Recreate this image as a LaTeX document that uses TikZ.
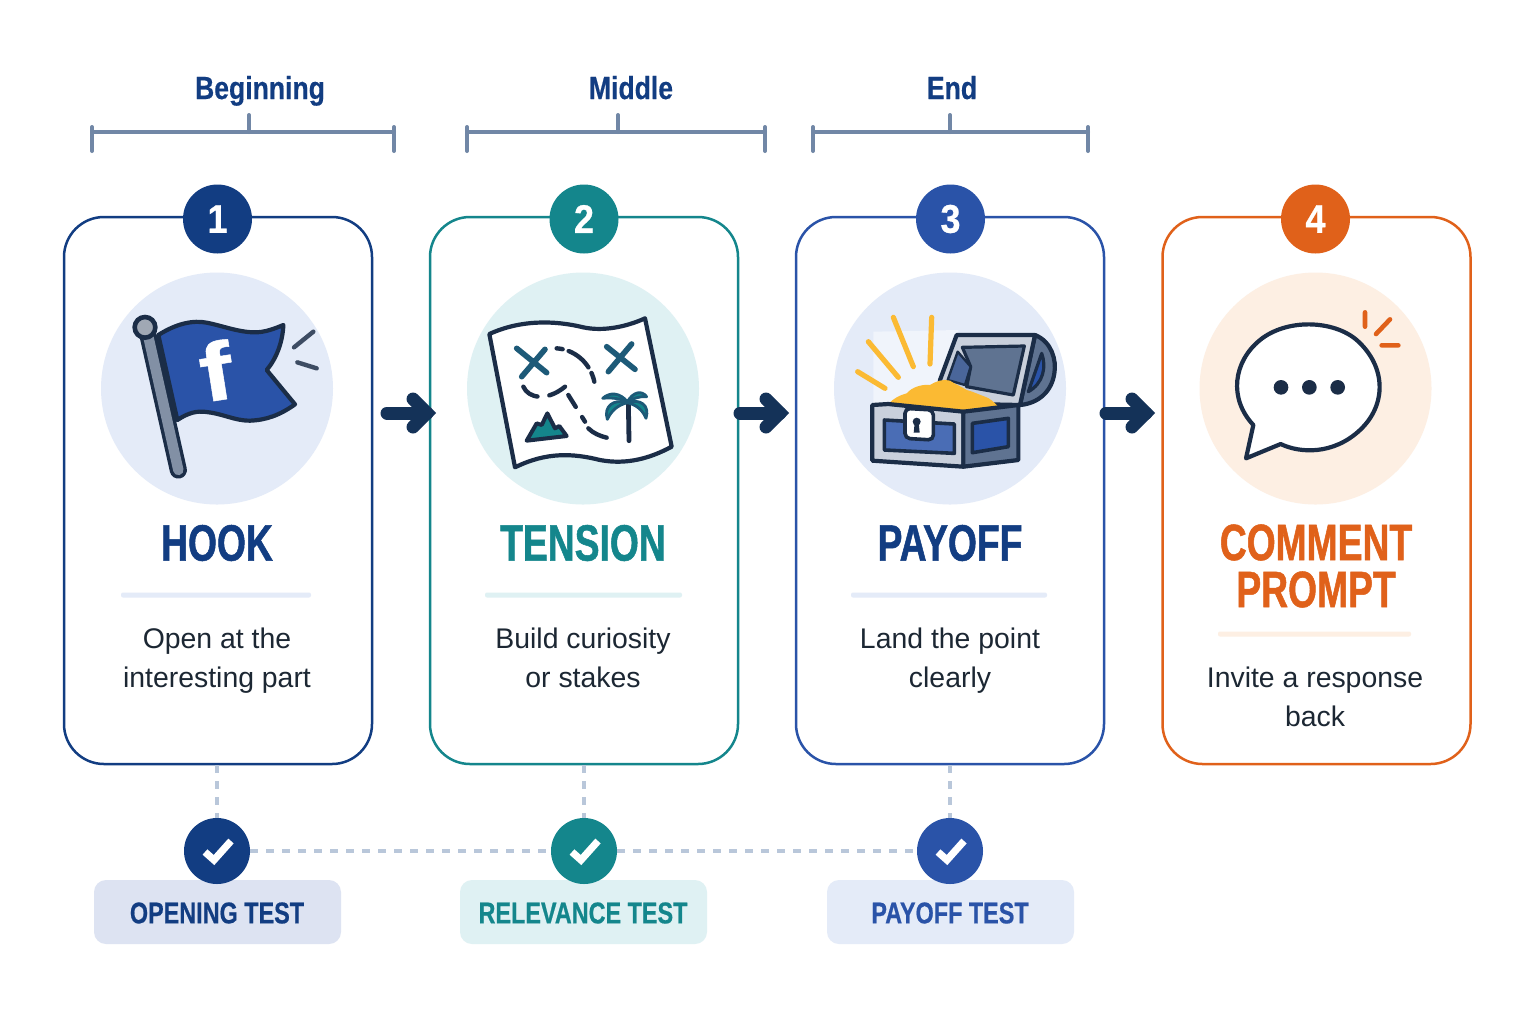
\documentclass[tikz,border=0pt]{standalone}
\usepackage{fontspec}
\setmainfont{Liberation Sans}
\newfontfamily\titlef[FakeStretch=0.73,FakeBold=1]{Liberation Sans Bold}
\newfontfamily\pillf[FakeStretch=0.78,FakeBold=0.6]{Liberation Sans Bold}
\newfontfamily\headf[FakeStretch=0.83,FakeBold=0.4]{Liberation Sans Bold}
\newfontfamily\numf[FakeStretch=0.9,FakeBold=0.6]{Liberation Sans Bold}
\newfontfamily\iconf[FakeStretch=1.2,FakeBold=0.6]{Liberation Sans Bold}
\definecolor{navy}{HTML}{123D82}
\definecolor{teal2}{HTML}{14868C}
\definecolor{blue3}{HTML}{2A53A8}
\definecolor{orange4}{HTML}{E0611A}
\definecolor{ink}{HTML}{1B2D47}
\definecolor{arrowc}{HTML}{143258}
\definecolor{slate}{HTML}{7187A6}
\definecolor{dashc}{HTML}{B9C7DA}
\definecolor{body}{HTML}{1C2733}
\definecolor{bgblue}{HTML}{E4EBF8}
\definecolor{bgteal}{HTML}{DFF1F3}
\definecolor{bgorange}{HTML}{FDEFE3}
\definecolor{gold}{HTML}{FBBA33}
\definecolor{steel}{HTML}{5F7391}
\definecolor{pale}{HTML}{C9D0DC}
\definecolor{mapx}{HTML}{1D5A78}
\definecolor{polec}{HTML}{8290A5}
\definecolor{ballc}{HTML}{A0A8B4}
\definecolor{pillnavy}{HTML}{DDE3F2}
\tikzset{
  card/.style={draw=#1,line width=1.25pt,fill=white,rounded corners=20pt,minimum width=154pt,minimum height=273.5pt,inner sep=0pt},
  badge/.style={circle,fill=#1,minimum size=34.5pt,inner sep=0pt,text=white,font=\numf\fontsize{20}{20}\selectfont},
  iconbg/.style={circle,fill=#1,minimum size=116pt,inner sep=0pt},
  titletext/.style={text=#1,font=\titlef\fontsize{25.5}{23.5}\selectfont,align=center,inner sep=0pt},
  bodytext/.style={text=body,font=\fontsize{14.2}{19.5}\selectfont,align=center,inner sep=0pt},
  rulebar/.style={draw=none,fill=#1,rounded corners=1pt,inner sep=0pt,minimum height=2.5pt},
  checknode/.style={circle,fill=#1,minimum size=33pt,inner sep=0pt},
  pill/.style={fill=#1,rounded corners=6pt,minimum width=123.5pt,minimum height=32pt,inner sep=0pt},
  pilltext/.style={text=#1,font=\pillf\fontsize{15}{15}\selectfont,inner sep=0pt},
  headtext/.style={text=navy,font=\headf\fontsize{16}{16}\selectfont,inner sep=0pt,anchor=base},
  bracket/.style={draw=slate,line width=2pt,line cap=round},
  dashline/.style={draw=dashc,line width=2pt,dash pattern=on 4pt off 4pt},
  flowarrow/.style={draw=arrowc,line width=6.5pt,line cap=round,miter limit=10},
  checkmark/.style={draw=white,line width=3.6pt,line join=miter},
  outl/.style={draw=ink,line width=2.1pt,line join=round,line cap=round},
  iconscope/.style={shift={#1},x=0.16667pt,y=-0.16667pt},
}
\begin{document}
\begin{tikzpicture}[x=0.5pt,y=-0.5pt]
\useasboundingbox (0,0) rectangle (1536,1024);
\fill[white] (0,0) rectangle (1536,1024);

% top brackets
\node[headtext] (h1) at (260,99) {Beginning};
\node[headtext] (h2) at (631,99) {Middle};
\node[headtext] (h3) at (952,99) {End};
\draw[bracket] (92,127) -- (92,151) (92,132) -- (394,132) (394,127) -- (394,151) (249,115) -- (249,132);
\draw[bracket] (467,127) -- (467,151) (467,132) -- (765,132) (765,127) -- (765,151) (618,115) -- (618,132);
\draw[bracket] (813,127) -- (813,151) (813,132) -- (1088,132) (1088,127) -- (1088,151) (950,115) -- (950,132);

% cards
\node[card=navy] (c1) at (218,490.5) {};
\node[card=teal2] (c2) at (584,490.5) {};
\node[card=blue3] (c3) at (950,490.5) {};
\node[card=orange4] (c4) at (1316.5,490.5) {};
\node[badge=navy] (b1) at (217.5,219) {1};
\node[badge=teal2] (b2) at (584,219) {2};
\node[badge=blue3] (b3) at (950.5,219) {3};
\node[badge=orange4] (b4) at (1315.5,219) {4};
\node[iconbg=bgblue] (i1) at (217,388.5) {};
\node[iconbg=bgteal] (i2) at (583,388.5) {};
\node[iconbg=bgblue] (i3) at (950,388.5) {};
\node[iconbg=bgorange] (i4) at (1315.5,388.5) {};

% flag icon
\begin{scope}[iconscope={(90,270)}]
\draw[ink,line width=8.6pt,line cap=round] (175,200) -- (265,600);
\draw[polec,line width=5.2pt,line cap=round] (175,200) -- (265,600);
\filldraw[fill=blue3,outl] (205,195) .. controls (260,160) and (310,150) .. (350,158) .. controls (400,168) and (440,185) .. (490,187) .. controls (525,188) and (555,175) .. (580,165) .. controls (578,215) and (560,265) .. (530,300) -- (615,403) .. controls (570,435) and (530,450) .. (480,452) .. controls (430,452) and (400,430) .. (340,425) .. controls (310,423) and (285,435) .. (262,450) -- cycle;
\filldraw[fill=ballc,draw=ink,line width=2.3pt] (165,172) circle[radius=31];
\draw[ink!85,line width=2.2pt,line cap=round] (670,185) -- (612,232) (622,277) -- (680,295);
\node[text=white,font=\iconf\fontsize{41}{41}\selectfont,rotate=9,inner sep=0pt] (flagf) at (378,302) {f};
\end{scope}

% map icon
\begin{scope}[iconscope={(460,270)}]
\filldraw[fill=white,outl] (88,192) .. controls (180,150) and (280,150) .. (370,172) .. controls (430,185) and (500,170) .. (555,145) -- (635,530) .. controls (570,565) and (500,585) .. (420,570) .. controls (340,550) and (260,545) .. (165,592) -- cycle;
\draw[mapx,line width=2.8pt,line cap=round] (170,235) -- (260,308) (255,238) -- (185,320) (440,230) -- (525,298) (515,222) -- (445,305);
\draw[ink,line width=2.2pt,line cap=round,dash pattern=on 3pt off 3.2pt on 13pt off 3.2pt on 9pt off 30pt] (290,235) .. controls (340,238) and (390,275) .. (403,335);
\draw[ink,line width=2.2pt,line cap=round,dash pattern=on 9pt off 6pt] (190,350) .. controls (205,385) and (260,395) .. (315,350);
\draw[ink,line width=2.2pt,line cap=round,dash pattern=on 7pt off 6pt] (325,375) -- (375,455);
\draw[ink,line width=2.2pt,line cap=round] (385,475) .. controls (400,490) and (420,498) .. (440,503);
\filldraw[fill=teal2,outl,line width=2pt] (200,512) -- (230,460) -- (245,465) -- (262,430) -- (285,475) -- (298,468) -- (320,498) -- cycle;
\draw[ink,line width=2.4pt,line cap=round] (505,395) -- (507,512);
\filldraw[fill=teal2,draw=mapx,line width=1.4pt,line join=round] (502,395) .. controls (480,368) and (450,365) .. (428,385) .. controls (450,382) and (480,385) .. (502,395) -- cycle;
\filldraw[fill=teal2,draw=mapx,line width=1.4pt,line join=round] (502,395) .. controls (520,365) and (545,360) .. (560,380) .. controls (540,378) and (520,385) .. (502,395) -- cycle;
\filldraw[fill=teal2,draw=mapx,line width=1.4pt,line join=round] (502,398) .. controls (460,385) and (430,410) .. (442,448) .. controls (455,420) and (475,405) .. (502,398) -- cycle;
\filldraw[fill=teal2,draw=mapx,line width=1.4pt,line join=round] (502,398) .. controls (540,385) and (570,405) .. (558,445) .. controls (548,420) and (530,405) .. (502,398) -- cycle;
\end{scope}

% chest icon
\begin{scope}[iconscope={(825,270)}]
\fill[white,opacity=.45] (145,185) -- (400,180) -- (400,400) -- (145,400) -- cycle;
\draw[gold,line width=2.6pt,line cap=round] (98,305) -- (180,355) (130,215) -- (220,322) (205,142) -- (265,290) (320,142) -- (315,282);
% lid side
\filldraw[fill=steel,outl] (630,195) .. controls (680,215) and (695,270) .. (688,310) .. controls (680,365) and (640,400) .. (585,405) -- cycle;
\filldraw[fill=blue3,draw=ink,line width=1.6pt,line join=round] (650,250) .. controls (665,290) and (655,340) .. (610,365) -- cycle;
% lid
\filldraw[fill=pale,outl] (395,195) -- (630,195) -- (585,405) -- (345,400) -- (345,330) -- cycle;
\filldraw[fill=steel,draw=ink,line width=1.6pt,line join=round] (412,232) -- (598,228) -- (565,375) -- (425,350) -- (437,290) -- cycle;
\filldraw[fill=steel!60!blue3,draw=ink,line width=1.2pt,line join=round] (398,245) -- (437,290) -- (420,345) -- (368,330) -- cycle;
% gold
\fill[gold] (190,402) .. controls (205,385) and (225,375) .. (245,370) .. controls (260,352) and (290,342) .. (315,345) .. controls (330,335) and (355,325) .. (375,332) .. controls (395,345) and (410,350) .. (425,360) .. controls (445,365) and (465,375) .. (480,380) .. controls (495,385) and (505,395) .. (518,408) -- (415,425) -- cycle;
% base
\filldraw[fill=pale,outl] (142,405) -- (190,402) -- (415,425) -- (415,590) -- (142,572) -- cycle;
\filldraw[fill=steel,outl] (415,425) -- (580,405) -- (580,570) -- (415,590) -- cycle;
\filldraw[fill=blue3!85!white,draw=ink,line width=1.8pt,line join=round] (178,450) -- (388,462) -- (388,550) -- (178,540) -- cycle;
\filldraw[fill=blue3,draw=ink,line width=1.8pt,line join=round] (442,460) -- (550,445) -- (550,530) -- (442,548) -- cycle;
\filldraw[fill=white,draw=ink,line width=1.8pt,rounded corners=2.5pt] (240,415) -- (325,420) -- (325,510) -- (240,505) -- cycle;
\fill[ink] (275,455) circle[radius=12];
\fill[ink] (269,458) -- (281,458) -- (284,488) -- (266,488) -- cycle;
\end{scope}

% speech icon
\begin{scope}[iconscope={(1190,270)}]
\filldraw[fill=white,outl] (272,522) .. controls (330,550) and (430,555) .. (510,480) .. controls (590,405) and (590,290) .. (500,210) .. controls (430,150) and (290,145) .. (210,210) .. controls (130,275) and (115,385) .. (190,465) -- (168,565) -- cycle;
\fill[ink] (273,352) circle[radius=22] (358,352) circle[radius=22] (443,352) circle[radius=22];
\draw[orange4,line width=2.3pt,line cap=round] (525,127) -- (525,170) (600,148) -- (558,192) (575,226) -- (625,226);
\end{scope}

% titles
\node[titletext=navy] (t1) at (217,543) {HOOK};
\node[titletext=teal2] (t2) at (583,543) {TENSION};
\node[titletext=navy] (t3) at (950,543) {PAYOFF};
\node[titletext=orange4] (t4) at (1316,566) {COMMENT\\PROMPT};

% dividers
\node[rulebar=bgblue,minimum width=95pt] (r1) at (216,595) {};
\node[rulebar=bgteal,minimum width=98.5pt] (r2) at (583.5,595) {};
\node[rulebar=bgblue,minimum width=98pt] (r3) at (949,595) {};
\node[rulebar=bgorange,minimum width=96.5pt] (r4) at (1314.5,634) {};

% body
\node[bodytext] (d1) at (217,661) {Open at the\\interesting part};
\node[bodytext] (d2) at (583,658) {Build curiosity\\or stakes};
\node[bodytext] (d3) at (950,661) {Land the point\\clearly};
\node[bodytext] (d4) at (1315,697) {Invite a response\\back};

% flow arrows
\coordinate (a1s) at (387,413); \coordinate (a1e) at (427,413);
\coordinate (a2s) at (740,413); \coordinate (a2e) at (780,413);
\coordinate (a3s) at (1106,413); \coordinate (a3e) at (1146,413);
\foreach \s/\e in {a1s/a1e,a2s/a2e,a3s/a3e}{
  \draw[flowarrow] (\s) -- (\e);
  \draw[flowarrow] ([shift={(-14,-14)}]\e) -- (\e) -- ([shift={(-14,14)}]\e);
}

% pills and checks
\node[pill=pillnavy] (p1) at (217.5,912) {};
\node[pill=bgteal] (p2) at (583.5,912) {};
\node[pill=bgblue] (p3) at (950.5,912) {};
\node[pilltext=navy] (pt1) at (217,913) {OPENING TEST};
\node[pilltext=teal2] (pt2) at (583,913) {RELEVANCE TEST};
\node[pilltext=blue3] (pt3) at (950,913) {PAYOFF TEST};
\node[checknode=navy] (k1) at (217,851) {};
\node[checknode=teal2] (k2) at (584,851) {};
\node[checknode=blue3] (k3) at (950,851) {};
\draw[dashline] (c1.south -| k1) -- (k1);
\draw[dashline] (c2.south -| k2) -- (k2);
\draw[dashline] (c3.south -| k3) -- (k3);
\draw[dashline] (k1) -- (k2);
\draw[dashline] (k2) -- (k3);
\foreach \k in {k1,k2,k3}{
  \draw[checkmark] ([shift={(-12,1)}]\k.center) -- ([shift={(-3,9)}]\k.center) -- ([shift={(14,-10)}]\k.center);
}
\end{tikzpicture}
\end{document}
